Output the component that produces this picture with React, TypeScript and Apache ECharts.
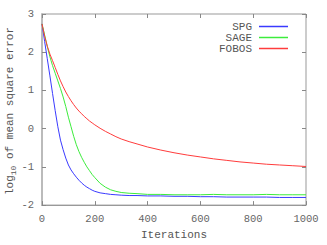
import React, { useEffect, useRef } from "react";
import * as echarts from "echarts";

const iterations = [0,10,20,30,40,50,60,70,80,90,100,110,120,130,140,150,160,170,180,190,200,220,240,260,280,300,330,360,400,450,500,550,600,650,700,750,800,850,900,950,1000];
const spg = [2.74,2.28,1.83,1.38,0.92,0.47,0.05,-0.3,-0.55,-0.77,-0.95,-1.08,-1.18,-1.27,-1.35,-1.42,-1.48,-1.53,-1.57,-1.61,-1.64,-1.68,-1.7,-1.72,-1.73,-1.74,-1.75,-1.75,-1.76,-1.76,-1.77,-1.77,-1.78,-1.78,-1.79,-1.79,-1.79,-1.79,-1.8,-1.8,-1.8];
const sage = [2.74,2.45,2.15,1.88,1.65,1.45,1.25,1.05,0.83,0.58,0.3,0.05,-0.2,-0.42,-0.6,-0.75,-0.88,-1.0,-1.1,-1.2,-1.28,-1.43,-1.53,-1.6,-1.64,-1.67,-1.69,-1.7,-1.72,-1.72,-1.73,-1.73,-1.73,-1.72,-1.73,-1.73,-1.73,-1.72,-1.73,-1.73,-1.73];
const fobos = [2.74,2.42,2.16,1.95,1.78,1.6,1.42,1.25,1.1,0.96,0.84,0.73,0.63,0.54,0.46,0.39,0.32,0.26,0.2,0.15,0.1,0.01,-0.07,-0.14,-0.21,-0.27,-0.34,-0.4,-0.48,-0.56,-0.63,-0.69,-0.74,-0.79,-0.83,-0.87,-0.9,-0.93,-0.95,-0.97,-0.99];
const seriesNames = ["SPG", "SAGE", "FOBOS"];
const colors = ["#3a3aff", "#3cec3c", "#ff3c3c"];

const FONT = "'Liberation Mono', 'DejaVu Sans Mono', monospace";

export default function App() {
  const ref = useRef<HTMLDivElement>(null);
  useEffect(() => {
    const chart = echarts.init(ref.current!, null, { renderer: "svg" });
    const values = [spg, sage, fobos];
    const tickStyle = { show: true, inside: true, length: 4, lineStyle: { color: "#888" } };
    chart.setOption({
      animation: false,
      backgroundColor: "#fff",
      grid: { left: 42, right: 21, top: 14, bottom: 36, show: true, borderColor: "#999", borderWidth: 1 },
      legend: {
        orient: "vertical",
        right: 34,
        top: 16,
        align: "right",
        icon: "rect",
        itemWidth: 29,
        itemHeight: 1.5,
        itemGap: 0,
        textStyle: { fontFamily: FONT, fontSize: 11, color: "#555", lineHeight: 11, padding: [0, 2, 0, 0] },
        data: seriesNames,
      },
      xAxis: [
        {
          type: "value", min: 0, max: 1000, interval: 200,
          name: "Iterations", nameLocation: "middle", nameGap: 21,
          nameTextStyle: { fontFamily: FONT, fontSize: 11, color: "#555" },
          axisLine: { show: true, onZero: false, lineStyle: { color: "#999" } },
          axisTick: tickStyle,
          axisLabel: { fontFamily: FONT, fontSize: 10.5, color: "#666", margin: 8, formatter: (v: number) => String(v) },
          splitLine: { show: false },
        },
        {
          type: "value", min: 0, max: 1000, interval: 200, position: "top",
          axisLine: { show: false, onZero: false }, axisTick: tickStyle, axisLabel: { show: false }, splitLine: { show: false },
        },
      ],
      yAxis: [
        {
          type: "value", min: -2, max: 3, interval: 1,
          axisLine: { show: true, onZero: false, lineStyle: { color: "#bbb", width: 2 } },
          axisTick: tickStyle,
          axisLabel: { fontFamily: FONT, fontSize: 10.5, color: "#666", margin: 8 },
          splitLine: { show: false },
        },
        {
          type: "value", min: -2, max: 3, interval: 1, position: "right",
          axisLine: { show: false, onZero: false }, axisTick: tickStyle, axisLabel: { show: false }, splitLine: { show: false },
        },
      ],
      graphic: [
        {
          type: "text",
          x: 10,
          y: 111,
          rotation: Math.PI / 2,
          style: {
            text: "{a|log}{s|10}{a| of mean square error}",
            align: "center",
            verticalAlign: "middle",
            rich: {
              a: { fontFamily: FONT, fontSize: 11, fill: "#555", lineHeight: 14 },
              s: { fontFamily: FONT, fontSize: 8, fill: "#555", lineHeight: 14, verticalAlign: "bottom", padding: [5, 0, 0, 0] },
            },
          },
        },
      ],
      series: seriesNames.map((name, i) => ({
        name,
        type: "line",
        symbol: "none",
        data: iterations.map((x, j) => [x, values[i][j]]),
        lineStyle: { width: 1, color: colors[i] },
        itemStyle: { color: colors[i] },
      })),
    });
    return () => chart.dispose();
  }, []);
  return <div ref={ref} style={{ position: "fixed", left: 0, top: 0, width: 327, height: 245 }} />;
}
